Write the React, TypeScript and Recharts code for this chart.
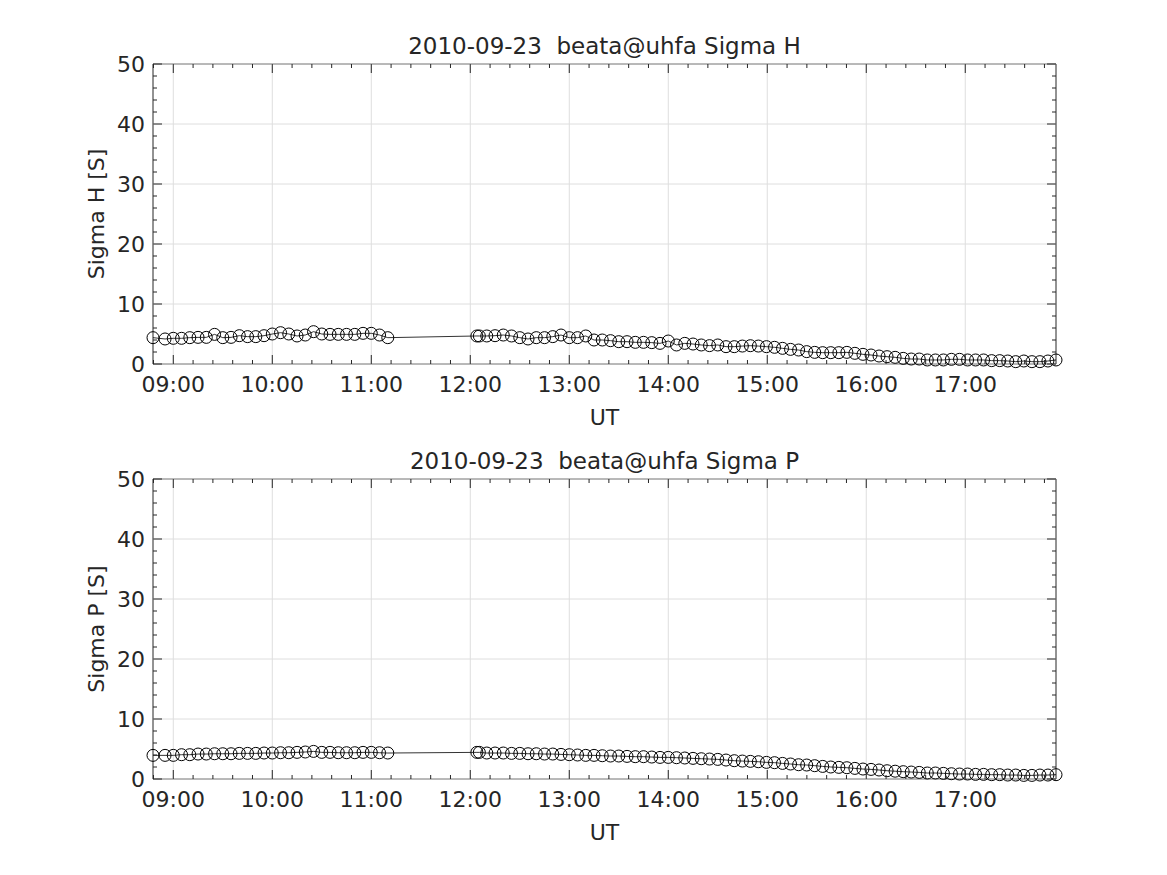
import {
  Line,
  LineChart,
  ReferenceArea,
  ReferenceLine,
  XAxis,
  YAxis,
} from "recharts";

// UT in minutes after midnight, 2010-09-23
const UT_MIN = [
  // 08:48 - 11:10
  527.7, 535, 540, 545, 550, 555, 560, 565, 570, 575, 580, 585, 590, 595, 600,
  605, 610, 615, 620, 625, 630, 635, 640, 645, 650, 655, 660, 665, 670,
  // 12:04 - 14:35
  724, 725.5, 730, 735, 740, 745, 750, 755, 760, 765, 770, 775, 780, 785, 790,
  795, 800, 805, 810, 815, 820, 825, 830, 835, 840, 845, 850, 855, 860, 865,
  870, 875,
  // 14:40 - 17:55
  880, 884.9, 889.75, 894.6, 899.5, 904.4, 909.25, 914.1, 919, 923.9, 928.75,
  933.6, 938.5, 943.4, 948.25, 953.1, 958, 962.9, 967.75, 972.6, 977.5, 982.4,
  987.25, 992.1, 997, 1001.9, 1006.75, 1011.6, 1016.5, 1021.4, 1026.25, 1031.1,
  1036, 1040.9, 1045.75, 1050.6, 1055.5, 1060.4, 1065.25, 1070.1, 1075,
];

const SIGMA_H = [
  4.39, 4.17, 4.28, 4.28, 4.39, 4.44, 4.44, 4.94, 4.39, 4.44, 4.72, 4.56, 4.56,
  4.72, 5.0, 5.22, 5.0, 4.67, 4.83, 5.39, 5.0, 4.94, 4.94, 4.94, 4.94, 5.11,
  5.11, 4.83, 4.39,
  4.67, 4.67, 4.67, 4.72, 4.83, 4.67, 4.39, 4.17, 4.39, 4.39, 4.56, 4.83, 4.39,
  4.39, 4.67, 4.0, 4.0, 3.89, 3.72, 3.72, 3.61, 3.61, 3.56, 3.44, 3.83, 3.17,
  3.44, 3.33, 3.17, 3.06, 3.17, 2.89,
  2.89, 2.99, 3.05, 2.99, 2.89, 2.78, 2.61, 2.44, 2.33, 2.06, 1.94, 1.89, 1.89,
  1.89, 1.94, 1.78, 1.61, 1.5, 1.33, 1.22, 1.11, 0.94, 0.83, 0.83, 0.67, 0.67,
  0.67, 0.78, 0.78, 0.67, 0.67, 0.67, 0.56, 0.56, 0.5, 0.39, 0.5, 0.39, 0.39,
  0.5, 0.67,
];

const SIGMA_P = [
  3.94, 3.94, 3.94, 4.05, 4.05, 4.16, 4.16, 4.21, 4.21, 4.21, 4.27, 4.27, 4.27,
  4.33, 4.33, 4.38, 4.38, 4.44, 4.5, 4.6, 4.44, 4.44, 4.38, 4.38, 4.38, 4.44,
  4.44, 4.38, 4.33,
  4.44, 4.44, 4.33, 4.33, 4.33, 4.27, 4.27, 4.21, 4.21, 4.16, 4.16, 4.1, 4.05,
  4.0, 3.94, 3.94, 3.88, 3.83, 3.83, 3.77, 3.72, 3.72, 3.66, 3.6, 3.6, 3.55,
  3.5, 3.44, 3.38, 3.33, 3.27, 3.16,
  3.05, 2.99, 2.94, 2.88, 2.77, 2.72, 2.6, 2.5, 2.38, 2.33, 2.22, 2.1, 2.0,
  1.94, 1.88, 1.77, 1.66, 1.6, 1.5, 1.38, 1.3, 1.22, 1.16, 1.1, 1.0, 1.0, 0.94,
  0.88, 0.83, 0.83, 0.77, 0.77, 0.72, 0.72, 0.66, 0.66, 0.6, 0.6, 0.66, 0.66,
  0.72,
];

const HOUR_TICKS = [540, 600, 660, 720, 780, 840, 900, 960, 1020];
const Y_TICKS = [0, 10, 20, 30, 40, 50];

// minor ticks every 12 min / every 2 S (axis decoration only)
const MINOR_X: number[] = [];
for (let m = 528; m <= 1075; m += 12) if (m % 60 !== 0) MINOR_X.push(m);
const MINOR_Y: number[] = [];
for (let v = 2; v < 50; v += 2) if (v % 10 !== 0) MINOR_Y.push(v);

const ALL_X = [...HOUR_TICKS, ...MINOR_X].sort((a, b) => a - b);
const ALL_Y = [...Y_TICKS, ...MINOR_Y].sort((a, b) => a - b);

const X_MIN = UT_MIN[0];
const X_MAX = UT_MIN[UT_MIN.length - 1];

const INK = "#262626";
const GRID = "#dedede";
const FONT = "DejaVu Sans";
const W = 1167;
const H = 437;
const TOP = 64;
const BOTTOM = 364;
const LEFT = 153;
const RIGHT = 1056;
const MID_X = (LEFT + RIGHT) / 2;
const X_AXIS_H = 60;
const Y_AXIS_W = 60;

function hhmm(m: number) {
  const h = Math.floor(m / 60);
  const mm = Math.round(m - h * 60);
  return `${String(h).padStart(2, "0")}:${String(mm).padStart(2, "0")}`;
}

const txt = { fontFamily: FONT, fill: INK };

function XTick(p: any) {
  const v = p.payload.value;
  const major = HOUR_TICKS.includes(v);
  const len = major ? 9 : 4;
  return (
    <g>
      <line x1={p.x} x2={p.x} y1={BOTTOM} y2={BOTTOM - len} stroke={INK} />
      <line x1={p.x} x2={p.x} y1={TOP} y2={TOP + len} stroke={INK} />
      {major && (
        <text
          x={p.x}
          y={BOTTOM + 12}
          dy="0.72em"
          textAnchor="middle"
          fontSize={22}
          {...txt}
        >
          {hhmm(v)}
        </text>
      )}
    </g>
  );
}

function YTick(p: any) {
  const v = p.payload.value;
  const major = Y_TICKS.includes(v);
  const len = major ? 9 : 4;
  return (
    <g>
      <line x1={LEFT} x2={LEFT + len} y1={p.y} y2={p.y} stroke={INK} />
      <line x1={RIGHT} x2={RIGHT - len} y1={p.y} y2={p.y} stroke={INK} />
      {major && (
        <text
          x={LEFT - 8}
          y={p.y}
          dy="0.36em"
          textAnchor="end"
          fontSize={22}
          {...txt}
        >
          {v}
        </text>
      )}
    </g>
  );
}

function Panel({
  title,
  yLabel,
  values,
}: {
  title: string;
  yLabel: string;
  values: number[];
}) {
  const data = UT_MIN.map((t, i) => ({ t, v: values[i] }));
  return (
    <LineChart
      width={W}
      height={H}
      data={data}
      margin={{
        top: TOP,
        right: W - RIGHT,
        bottom: H - BOTTOM - X_AXIS_H,
        left: LEFT - Y_AXIS_W,
      }}
    >
      {HOUR_TICKS.map((t) => (
        <ReferenceLine key={`gx${t}`} x={t} stroke={GRID} strokeWidth={1} />
      ))}
      {Y_TICKS.map((t) => (
        <ReferenceLine key={`gy${t}`} y={t} stroke={GRID} strokeWidth={1} />
      ))}
      <XAxis
        dataKey="t"
        type="number"
        domain={[X_MIN, X_MAX]}
        ticks={ALL_X}
        interval={0}
        height={X_AXIS_H}
        axisLine={false}
        tickLine={false}
        tick={XTick}
        label={() => (
          <text
            x={MID_X}
            y={BOTTOM + 61}
            textAnchor="middle"
            fontSize={22}
            {...txt}
          >
            UT
          </text>
        )}
      />
      <YAxis
        type="number"
        domain={[0, 50]}
        ticks={ALL_Y}
        interval={0}
        width={Y_AXIS_W}
        axisLine={false}
        tickLine={false}
        tick={YTick}
        label={() => (
          <text
            transform={`translate(104, ${(TOP + BOTTOM) / 2}) rotate(-90)`}
            textAnchor="middle"
            fontSize={22}
            {...txt}
          >
            {yLabel}
          </text>
        )}
      />
      <ReferenceArea
        x1={X_MIN}
        x2={X_MAX}
        y1={0}
        y2={50}
        fill="none"
        fillOpacity={0}
        stroke={INK}
        strokeWidth={1}
        label={() => (
          <text
            x={MID_X}
            y={54}
            textAnchor="middle"
            fontSize={23}
            style={{ whiteSpace: "pre" }}
            {...txt}
          >
            {title}
          </text>
        )}
      />
      <Line
        type="linear"
        dataKey="v"
        stroke="#000"
        strokeWidth={0.8}
        dot={{ r: 6, fill: "none", stroke: "#000", strokeWidth: 1 }}
        activeDot={false}
        isAnimationActive={false}
      />
    </LineChart>
  );
}

export default function App() {
  return (
    <div
      style={{
        position: "absolute",
        left: 0,
        top: 0,
        width: W,
        height: 875,
        background: "#fff",
      }}
    >
      <div style={{ position: "absolute", left: 0, top: 0 }}>
        <Panel
          title="2010-09-23  beata@uhfa Sigma H"
          yLabel="Sigma H [S]"
          values={SIGMA_H}
        />
      </div>
      <div style={{ position: "absolute", left: 0, top: 415 }}>
        <Panel
          title="2010-09-23  beata@uhfa Sigma P"
          yLabel="Sigma P [S]"
          values={SIGMA_P}
        />
      </div>
    </div>
  );
}
